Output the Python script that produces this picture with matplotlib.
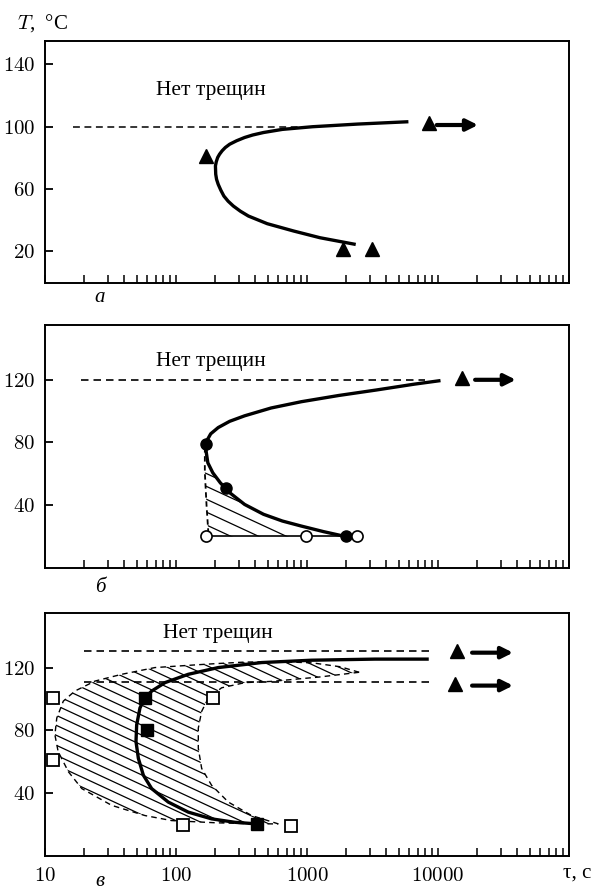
import numpy as np
import matplotlib
matplotlib.use('Agg')
import matplotlib.pyplot as plt
from matplotlib.patches import Polygon
from matplotlib.ticker import LogLocator, NullFormatter

plt.rcParams['font.family'] = ['Liberation Serif', 'DejaVu Serif']
plt.rcParams['mathtext.fontset'] = 'cm'

# ---------- panel a ----------
a_curve_tau = [5945, 2437, 1101, 649, 466, 385, 334, 290, 257, 238, 225, 215, 208, 203,
               200, 201, 204, 210, 220, 232, 250, 274, 310, 357, 497, 791, 1257, 2355]
a_curve_T = [103.1, 101.6, 99.9, 98.2, 96.2, 94.6, 93.0, 90.9, 88.7, 86.6, 84.5, 82.3,
             80.2, 77.5, 74.8, 69.5, 66.2, 63.0, 59.2, 55.5, 52.2, 49.1, 45.8, 42.7, 37.8,
             33.1, 28.8, 24.5]
a_tri_tau = [169, 1870, 3130, 8550]
a_tri_T = [81, 21.5, 21.5, 102]
a_limit_tau = [16.5, 1100]
a_limit_T = 100
a_arrow_tau = [9770, 20200]
a_arrow_T = 101

# ---------- panel b ----------
b_curve_tau = [10450, 6570, 3390, 1750, 904, 532, 334, 257, 210, 184, 173, 170, 170,
               175, 191, 218, 257, 334, 466, 649, 904, 1343, 1995]
b_curve_T = [119.5, 117.2, 113.5, 110.0, 106.0, 102.0, 97.0, 93.5, 89.5, 85.5, 81.5,
             78.0, 74.0, 67.0, 60.6, 54.2, 47.9, 40.4, 34.1, 29.8, 26.6, 23.0, 19.8]
b_full_tau = [170, 240, 1995]
b_full_T = [79, 51, 20]
b_open_tau = [170, 980, 2400]
b_open_T = [20, 20, 20]
b_left_tau = [166, 166, 171, 177]
b_left_T = [77, 61, 40, 21]
b_zone_tau = [166, 191, 218, 257, 334, 466, 700, 980, 177, 171]
b_zone_T = [61, 60.6, 54.2, 47.9, 40.4, 33.0, 26.0, 20, 20, 40]
b_tri_tau = [15300]
b_tri_T = [121]
b_limit_tau = [18.8, 8000]
b_limit_T = 120
b_arrow_tau = [19200, 39300]
b_arrow_T = 120

# ---------- panel c ----------
c_curve_tau = [8500, 3300, 1087, 451, 210, 124, 82.4, 65.2, 58, 53.1, 50.1, 49.5, 51.6,
               56.3, 65.2, 87.3, 124, 187, 282, 413]
c_curve_T = [125.4, 125.4, 124.7, 123.2, 120.0, 115.7, 110.4, 105.0, 100.7, 94.3, 83.5,
             72.8, 62.1, 51.4, 42.8, 34.2, 27.8, 23.5, 21.3, 20.3]
c_full_tau = [58, 59.7, 413]
c_full_T = [100.3, 80.3, 20.3]
c_open_tau = [11.6, 11.6, 114, 193, 755]
c_open_T = [100.3, 61, 19.6, 100.3, 19.2]
c_outer_tau = [2500, 1800, 1100, 600, 336, 200, 140, 69, 38.5, 24.1, 16.9, 13.8, 12.3,
               11.9, 12.6, 15.1, 19.1, 32.3, 58, 92.6, 200, 420, 604]
c_outer_T = [117, 120.5, 123, 123.8, 123.5, 122.5, 121.7, 120, 115.7, 111.4, 105, 98.6,
             87.8, 77.1, 66.4, 53.5, 42.8, 32.1, 25.6, 22.4, 21, 20.3, 20.3]
c_inner_tau = [2500, 1250, 540, 336, 223, 177, 157, 148, 148, 157, 187, 251, 378, 604]
c_inner_T = [117, 114, 111.2, 110.4, 107.1, 100.7, 92.1, 81.4, 68.5, 55.7, 44.9, 34.2,
             25.6, 20.3]
c_tri_tau = [13960, 13500]
c_tri_T = [130.5, 109.5]
c_limit_tau = [20, 8500]
c_limit_T = [130.3, 111]
c_arrow_tau = [18200, 37400]
c_arrow_T = [129.5, 108.5]

x_ticks = [10, 100, 1000, 10000]
x_labels = ['$10$', '$100$', '$1000$', '$10000$']

W, H = 591, 893
fig = plt.figure(figsize=(W / 100, H / 100), dpi=100)

left, width = 45 / W, 524 / W
boxes = [(40.7, 282.7), (325, 567.7), (612.7, 855.7)]
axes = []
for top, bot in boxes:
    ax = fig.add_axes([left, 1 - bot / H, width, (bot - top) / H])
    ax.set_xscale('log')
    ax.set_xlim(10, 1e5)
    ax.set_ylim(0, 155)
    ax.xaxis.set_major_locator(LogLocator(base=10))
    ax.xaxis.set_minor_locator(LogLocator(base=10, subs=np.arange(2, 10)))
    ax.xaxis.set_minor_formatter(NullFormatter())
    ax.tick_params(axis='x', which='both', direction='in', length=6, width=1.1,
                   top=False, labelbottom=False)
    ax.tick_params(axis='y', which='both', direction='in', length=6, width=1.3,
                   right=False, labelsize=15, pad=7)
    for s in ax.spines.values():
        s.set_linewidth(1.4)
    axes.append(ax)

ax_a, ax_b, ax_c = axes
ax_a.set_yticks([20, 60, 100, 140], labels=['$20$', '$60$', '$100$', '$140$'])
ax_b.set_yticks([40, 80, 120], labels=['$40$', '$80$', '$120$'])
ax_c.set_yticks([40, 80, 120], labels=['$40$', '$80$', '$120$'])
ax_c.set_xticks(x_ticks, labels=x_labels)
ax_c.xaxis.set_minor_locator(LogLocator(base=10, subs=np.arange(2, 10)))
ax_c.tick_params(axis='x', labelbottom=True, labelsize=15, pad=8)

dash = (4.5, 3)


def arrow(ax, xs, y):
    ax.annotate('', xy=(xs[1], y), xytext=(xs[0], y),
                arrowprops=dict(arrowstyle='-|>', color='k', lw=3,
                                mutation_scale=17, shrinkA=0, shrinkB=0))


def hatch(ax, verts, step):
    poly = Polygon(verts, closed=True, facecolor='none', edgecolor='none')
    ax.add_patch(poly)
    for c in np.arange(-1.0, 2.2, step):
        ln, = ax.plot([0, 1], [c, c - 1.0], transform=ax.transAxes,
                      color='k', lw=0.9)
        ln.set_clip_path(poly)


label_kw = dict(fontsize=15.5)

# panel a
ax_a.plot(a_limit_tau, [a_limit_T] * 2, 'k', lw=1.1, dashes=dash)
ax_a.plot(a_curve_tau, a_curve_T, 'k', lw=2.4, solid_capstyle='butt',
          solid_joinstyle='round')
ax_a.plot(a_tri_tau, a_tri_T, 'k^', ms=10)
arrow(ax_a, a_arrow_tau, a_arrow_T)
ax_a.text(70.6, 123, 'Нет трещин', ha='left', va='center', **label_kw)

# panel b
hatch(ax_b, list(zip(b_zone_tau, b_zone_T)), 0.053)
ax_b.plot(b_limit_tau, [b_limit_T] * 2, 'k', lw=1.2, dashes=dash)
ax_b.plot(b_left_tau, b_left_T, 'k', lw=1.3, dashes=(3, 2))
ax_b.plot(b_open_tau, b_open_T, 'k', lw=1.2)
ax_b.plot(b_curve_tau, b_curve_T, 'k', lw=2.4, solid_capstyle='butt',
          solid_joinstyle='round')
ax_b.plot(b_full_tau, b_full_T, 'ko', ms=8)
ax_b.plot(b_open_tau, b_open_T, 'o', mfc='white', mec='k', mew=1.2, ms=8)
ax_b.plot(b_tri_tau, b_tri_T, 'k^', ms=10)
arrow(ax_b, b_arrow_tau, b_arrow_T)
ax_b.text(70.6, 132, 'Нет трещин', ha='left', va='center', **label_kw)

# panel c
zone = list(zip(c_outer_tau, c_outer_T)) + list(zip(c_inner_tau, c_inner_T))[::-1]
hatch(ax_c, zone, 0.041)
ax_c.plot(c_outer_tau, c_outer_T, 'k', lw=1.0, dashes=(4, 3))
ax_c.plot(c_inner_tau, c_inner_T, 'k', lw=1.0, dashes=(4, 3))
for T in c_limit_T:
    ax_c.plot(c_limit_tau, [T, T], 'k', lw=1.2, dashes=dash)
ax_c.plot(c_curve_tau, c_curve_T, 'k', lw=2.4, solid_capstyle='butt',
          solid_joinstyle='round')
ax_c.plot(c_full_tau, c_full_T, 'ks', ms=8.5)
ax_c.plot(c_open_tau, c_open_T, 's', mfc='white', mec='k', mew=1.3, ms=8)
ax_c.plot(c_tri_tau, c_tri_T, 'k^', ms=10)
for T in c_arrow_T:
    arrow(ax_c, c_arrow_tau, T)
ax_c.text(79, 141.5, 'Нет трещин', ha='left', va='center', **label_kw)

# figure texts
fig.text(17 / W, 1 - 23 / H, r'$T$,  °C', ha='left', va='center', fontsize=15)
fig.text(563 / W, 1 - 873 / H, 'τ, с', ha='left', va='center', fontsize=15)
for lab, y in [('а', 298), ('б', 588), ('в', 881)]:
    fig.text(100 / W, 1 - y / H, lab, ha='center', va='center', fontsize=15,
             style='italic')

fig.savefig('out.png', dpi=100)
